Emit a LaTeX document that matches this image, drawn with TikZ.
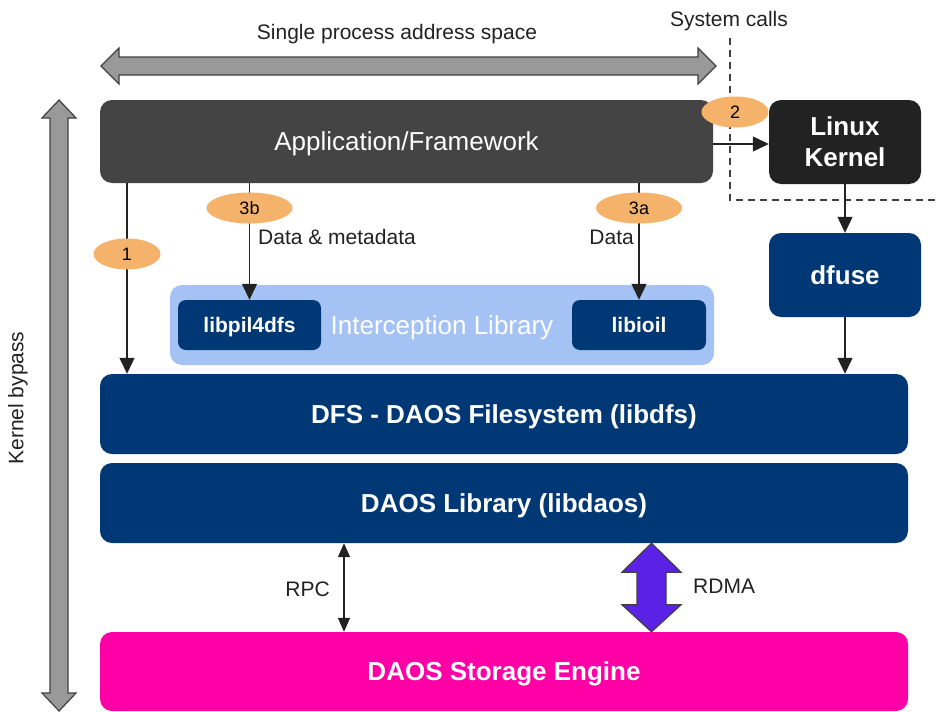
\documentclass[tikz,border=0pt]{standalone}
\usepackage{fontspec}
\setmainfont{Liberation Sans}
\usetikzlibrary{arrows.meta,shapes.geometric,calc}
\begin{document}
\begin{tikzpicture}[x=1pt,y=-1pt,
  layerbox/.style={rounded corners=12pt,inner sep=0pt,text=white,align=center,
    text depth=0pt,font=\fontsize{26}{31}\selectfont\bfseries},
  libbox/.style={layerbox,fill=daosColor,rounded corners=8pt,
    font=\fontsize{21}{25}\selectfont\bfseries},
  badge/.style={ellipse,fill=badgeColor,inner sep=0pt,minimum width=67pt,
    minimum height=31pt,font=\fontsize{18}{21}\selectfont},
  label/.style={inner sep=0pt,text=labelColor,font=\fontsize{21}{25}\selectfont},
  conn/.style={draw=lineColor,line width=1.3pt,-{Triangle[length=16pt,width=15pt]}},
  fatarrow/.style={draw=edgeColor,line width=1.2pt,line join=miter}]
\definecolor{appColor}{RGB}{68,68,68}
\definecolor{kernelColor}{RGB}{34,34,34}
\definecolor{daosColor}{RGB}{0,56,118}
\definecolor{interColor}{RGB}{164,194,244}
\definecolor{badgeColor}{RGB}{245,178,107}
\definecolor{engineColor}{RGB}{255,0,166}
\definecolor{rdmaColor}{RGB}{91,33,230}
\definecolor{grayColor}{RGB}{153,153,153}
\definecolor{edgeColor}{RGB}{64,64,64}
\definecolor{lineColor}{RGB}{34,34,34}
\definecolor{labelColor}{RGB}{34,34,34}

\useasboundingbox[fill=white] (0,0) rectangle (937,712);

% address space and kernel bypass
\path[fatarrow,fill=grayColor] (101,66) -- (119,48) -- (119,57) -- (698,57) -- (698,48)
  -- (716,66) -- (698,84) -- (698,75) -- (119,75) -- (119,84) -- cycle;
\node[label] (addr) at (397,34) {Single process address space};
\path[fatarrow,fill=grayColor] (59,100) -- (76,118) -- (68,118) -- (68,693) -- (76,693)
  -- (59,711) -- (42,693) -- (50,693) -- (50,118) -- (42,118) -- cycle;
\node[label,rotate=90] (bypass) at (18,398) {Kernel bypass};

% system call boundary
\node[label] (syscalls) at (729,21) {System calls};
\draw[draw=edgeColor,line width=1.5pt,dash pattern=on 7pt off 5pt]
  (730,38) -- (730,200) -- (937,200);

% layers
\node[layerbox,fill=appColor,minimum width=613pt,minimum height=83pt,
  font=\fontsize{26}{30}\selectfont] (app) at (406.5,141.5) {Application/Framework};
\node[layerbox,fill=kernelColor,minimum width=152pt,minimum height=84pt] (kernel)
  at (845,142) {Linux\\Kernel};
\node[layerbox,fill=daosColor,minimum width=152pt,minimum height=84pt] (dfuse)
  at (845,275) {dfuse};
\node[layerbox,fill=interColor,minimum width=544pt,minimum height=80pt,
  font=\fontsize{26}{30}\selectfont] (intercept) at (442,325) {Interception Library};
\node[libbox,minimum width=143pt,minimum height=50pt] (pil) at (249.5,325) {libpil4dfs};
\node[libbox,minimum width=134pt,minimum height=50pt] (ioil) at (639,325) {libioil};
\node[layerbox,fill=daosColor,minimum width=808pt,minimum height=80pt] (dfs)
  at (504,414) {DFS - DAOS Filesystem (libdfs)};
\node[layerbox,fill=daosColor,minimum width=808pt,minimum height=80pt] (daoslib)
  at (504,503) {DAOS Library (libdaos)};
\node[layerbox,fill=engineColor,minimum width=808pt,minimum height=79pt] (engine)
  at (504,671.5) {DAOS Storage Engine};

% badges
\coordinate (p1) at (127,254);
\coordinate (p3b) at (249.5,208);
\coordinate (p3a) at (639,208);

% paths
\draw[conn] (p1 |- app.south) -- (p1 |- dfs.north);
\draw[conn] (p3b |- app.south) -- (p3b |- pil.north);
\draw[conn] (p3a |- app.south) -- (p3a |- ioil.north);
\draw[conn] (app.east |- 0,144) -- (kernel.west |- 0,144);
\draw[conn] (kernel.south) -- (dfuse.north);
\draw[conn] (dfuse.south) -- (dfuse.south |- dfs.north);

\node[badge] (b1) at (p1) {1};
\node[badge,minimum width=86pt] (b3b) at (p3b) {3b};
\node[badge,minimum width=86pt] (b3a) at (p3a) {3a};
\node[badge] (b2) at (735,112) {2};
\node[label,anchor=west] (datameta) at (258,237) {Data \& metadata};
\node[label,anchor=east] (data) at (634,237) {Data};

% transport
\coordinate (rpc) at (344,588);
\draw[draw=lineColor,line width=1.3pt,
  {Triangle[length=14pt,width=12pt]}-{Triangle[length=14pt,width=12pt]}]
  (rpc |- daoslib.south) -- (rpc |- engine.north);
\node[label,anchor=east] (rpclabel) at (330,589) {RPC};
\coordinate (rdmaT) at (651.5,0 |- daoslib.south);
\coordinate (rdmaB) at (651.5,0 |- engine.north);
\path[fatarrow,fill=rdmaColor] (rdmaT) -- ($(rdmaT)+(29.5,29)$) -- ($(rdmaT)+(14.5,29)$)
  -- ($(rdmaB)+(14.5,-27)$) -- ($(rdmaB)+(29.5,-27)$) -- (rdmaB)
  -- ($(rdmaB)+(-29.5,-27)$) -- ($(rdmaB)+(-14.5,-27)$) -- ($(rdmaT)+(-14.5,29)$)
  -- ($(rdmaT)+(-29.5,29)$) -- cycle;
\node[label,anchor=west] (rdmalabel) at (693,586) {RDMA};
\end{tikzpicture}
\end{document}
